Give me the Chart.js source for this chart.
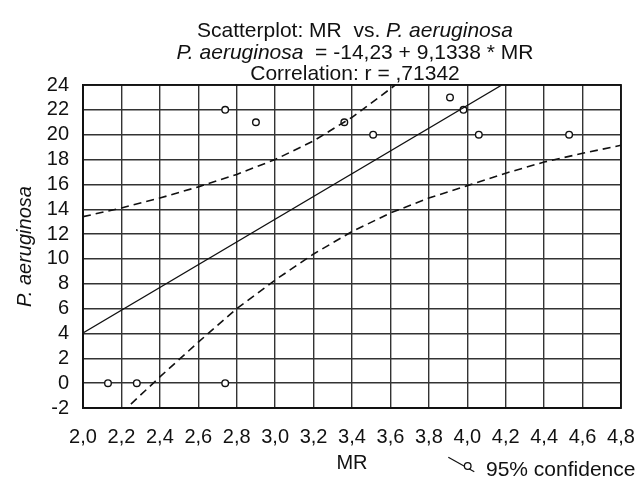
<!DOCTYPE html>
<html>
<head>
<meta charset="utf-8">
<script src="https://cdn.jsdelivr.net/npm/chart.js@4/dist/chart.umd.min.js"></script>
<style>
  body { margin: 0; background: #fff; }
  #wrap { position: relative; width: 640px; height: 480px; font-family: "Liberation Sans", Arial, sans-serif; color: #111; }
  #title { position: absolute; left: 155px; top: 19px; width: 400px; text-align: center; font-size: 21px; line-height: 21.5px; white-space: pre; }
  #legend { position: absolute; left: 486px; top: 459px; font-size: 21px; line-height: 20px; white-space: pre; }
  #legicon { position: absolute; left: 444px; top: 452px; }
</style>
</head>
<body>
<div id="wrap">
  <canvas id="cnv" width="640" height="480"></canvas>
  <div id="title">Scatterplot: MR  vs. <i>P. aeruginosa</i>
<i>P. aeruginosa</i>  = -14,23 + 9,1338 * MR
Correlation: r = ,71342</div>
  <svg id="legicon" width="34" height="24">
    <line x1="4.3" y1="5.3" x2="30.3" y2="19.7" stroke="#111" stroke-width="1.2"/>
    <circle cx="23.7" cy="14" r="3.3" fill="#fff" stroke="#111" stroke-width="1.3"/>
  </svg>
  <div id="legend">95% confidence</div>
</div>
<script>
// observed points (MR vs P. aeruginosa)
const mrValues = [2.13, 2.28, 2.74, 2.74, 2.90, 3.36, 3.51, 3.91, 3.98, 4.06, 4.53];
const paValues = [0, 0, 0, 22, 21, 21, 20, 23, 22, 20, 20];

// regression line, read where it enters and leaves the plot
const fitX = [2.0, 4.18];
const fitY = [4.04, 24.0];

// 95% confidence band
const upperX = [2.0, 2.2, 2.4, 2.6, 2.8, 3.0, 3.2, 3.4, 3.6, 3.8];
const upperY = [13.4, 14.1, 14.9, 15.8, 16.8, 18.0, 19.5, 21.4, 23.7, 26.1];
const lowerX = [2.2, 2.4, 2.6, 2.8, 3.0, 3.2, 3.4, 3.6, 3.8, 4.0, 4.2, 4.4, 4.6, 4.8];
const lowerY = [-2.4, 0.5, 3.3, 6.0, 8.3, 10.4, 12.2, 13.7, 14.9, 15.9, 16.9, 17.8, 18.5, 19.15];

const fontFamily = '"Liberation Sans", Arial, sans-serif';
const ink = '#111';

function pairs(xs, ys) {
  return xs.map((x, i) => ({x: x, y: ys[i]}));
}

const frame = {
  id: 'frame',
  afterDraw(chart) {
    const a = chart.chartArea;
    const ctx = chart.ctx;
    ctx.save();
    ctx.strokeStyle = ink;
    ctx.lineWidth = 1.8;
    ctx.strokeRect(a.left, a.top, a.right - a.left, a.bottom - a.top);
    ctx.restore();
  }
};

const bandStyle = {
  showLine: true,
  borderColor: ink,
  borderWidth: 1.6,
  borderDash: [8, 5],
  pointRadius: 0,
  fill: false
};

new Chart(document.getElementById('cnv').getContext('2d'), {
  type: 'scatter',
  data: {
    datasets: [
      Object.assign({label: 'upper', data: pairs(upperX, upperY)}, bandStyle),
      Object.assign({label: 'lower', data: pairs(lowerX, lowerY)}, bandStyle),
      {
        label: 'fit',
        data: pairs(fitX, fitY),
        showLine: true,
        borderColor: ink,
        borderWidth: 1.3,
        pointRadius: 0
      },
      {
        label: 'points',
        data: pairs(mrValues, paValues),
        pointRadius: 3.3,
        pointBorderWidth: 1.4,
        pointBackgroundColor: '#fff',
        pointBorderColor: ink
      }
    ]
  },
  options: {
    responsive: false,
    animation: false,
    layout: {
      padding: {top: 85, right: 19, left: 0, bottom: 0}
    },
    plugins: {
      legend: {display: false},
      title: {display: false},
      tooltip: {enabled: false}
    },
    scales: {
      x: {
        type: 'linear',
        min: 2,
        max: 4.8,
        // fixed box so the plot area lands where the original has it
        afterFit: (scale) => {
          scale.height = 72;
          scale.paddingLeft = 0;
          scale.paddingRight = 0;
        },
        ticks: {
          stepSize: 0.2,
          autoSkip: false,
          maxRotation: 0,
          padding: 17,
          color: ink,
          font: {family: fontFamily, size: 20},
          callback: (v) => v.toFixed(1).replace('.', ',')
        },
        grid: {color: '#333', lineWidth: 1.4, drawTicks: false},
        border: {display: true, color: ink, width: 1.8},
        title: {
          display: true,
          text: 'MR',
          color: ink,
          font: {family: fontFamily, size: 20},
          padding: {top: 0, bottom: 5}
        }
      },
      y: {
        min: -2,
        max: 24,
        afterFit: (scale) => {
          scale.width = 83;
          scale.paddingTop = 0;
          scale.paddingBottom = 0;
        },
        ticks: {
          stepSize: 2,
          autoSkip: false,
          padding: 14,
          color: ink,
          font: {family: fontFamily, size: 20}
        },
        grid: {color: '#333', lineWidth: 1.4, drawTicks: false},
        border: {display: true, color: ink, width: 1.8},
        title: {
          display: true,
          text: 'P. aeruginosa',
          color: ink,
          font: {family: fontFamily, size: 20, style: 'italic'},
          padding: {top: 13, bottom: 0}
        }
      }
    }
  },
  plugins: [frame]
});
</script>
</body>
</html>
